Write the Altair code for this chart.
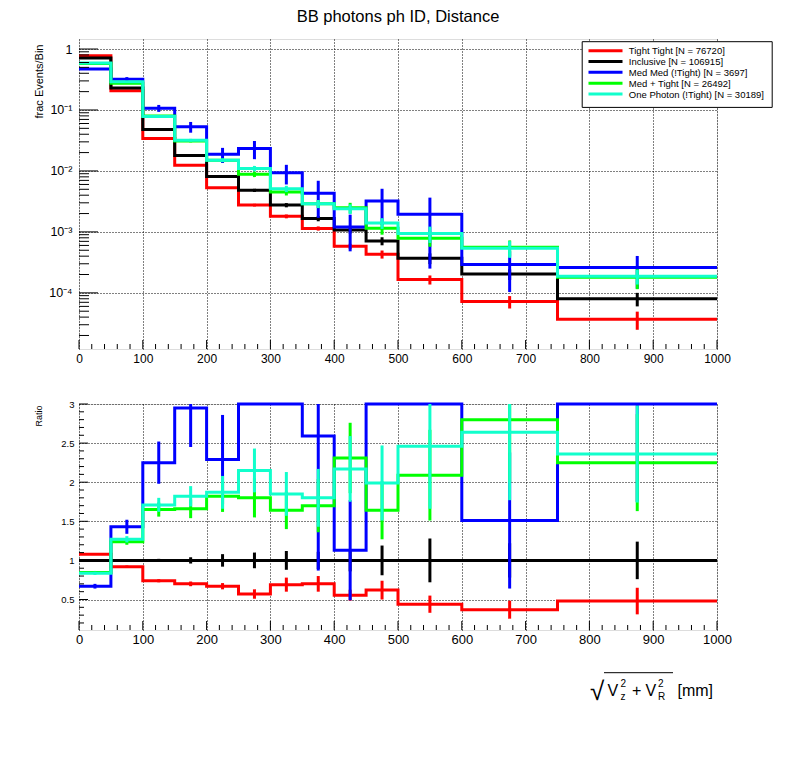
import altair as alt
import pandas as pd

FONT = "Liberation Sans"

# ---------------- data ----------------
edges = [0, 50, 100, 150, 200, 250, 300, 350, 400, 450, 500, 600, 750, 1000]
series = [
    "Tight Tight [N = 76720]",
    "Inclusive [N = 106915]",
    "Med Med (!Tight) [N = 3697]",
    "Med + Tight [N = 26492]",
    "One Photon (!Tight) [N = 30189]",
]
colors = ["#ff0000", "#000000", "#0000ff", "#00ff00", "#11ffcc"]

# top panel: fraction of events per bin
frac_tight = [0.776, 0.206, 0.034, 0.0124, 0.0053, 0.00275, 0.0018, 0.00114, 0.00058, 0.00043, 0.000165, 7.2e-5, 3.7e-5]
frac_incl = [0.71, 0.23, 0.048, 0.018, 0.0081, 0.0048, 0.00275, 0.00166, 0.00107, 0.00071, 0.00037, 0.000203, 8.0e-5]
frac_medmed = [0.47, 0.32, 0.107, 0.053, 0.0187, 0.0233, 0.0093, 0.0043, 0.0012, 0.0032, 0.00195, 0.000293, 0.00026]
frac_medtight = [0.58, 0.275, 0.08, 0.031, 0.015, 0.0088, 0.0045, 0.0029, 0.0025, 0.00115, 0.00079, 0.00056, 0.00018]
frac_one = [0.59, 0.29, 0.078, 0.032, 0.015, 0.011, 0.0051, 0.0029, 0.0024, 0.0014, 0.00094, 0.00054, 0.000188]

err_tight = [0.004, 0.002, 0.0005, 0.00025, 0.00016, 0.00014, 0.00013, 0.00009, 0.000058, 0.000065, 0.000028, 0.0000166, 0.0000122]
err_incl = [0.0036, 0.0023, 0.001, 0.00054, 0.0004, 0.00029, 0.00022, 0.000166, 0.00013, 0.000107, 0.000074, 0.00004, 0.00002]
err_medmed = [0.014, 0.026, 0.014, 0.0106, 0.0052, 0.0077, 0.0033, 0.0026, 0.00072, 0.0019, 0.0017, 0.00019, 0.000143]
err_medtight = [0.0058, 0.0055, 0.0024, 0.0016, 0.00105, 0.00088, 0.00054, 0.00044, 0.0005, 0.00025, 0.00022, 0.000165, 0.000065]
err_one = [0.0059, 0.0058, 0.0023, 0.0016, 0.00105, 0.0011, 0.0006, 0.00044, 0.00043, 0.00028, 0.00028, 0.000165, 0.000051]

# bottom panel: ratio to Inclusive
ratio_tight = [1.08, 0.92, 0.74, 0.70, 0.67, 0.57, 0.69, 0.70, 0.555, 0.62, 0.44, 0.37, 0.48]
ratio_incl = [1.0, 1.0, 1.0, 1.0, 1.0, 1.0, 1.0, 1.0, 1.0, 1.0, 1.0, 1.0, 1.0]
ratio_medmed = [0.67, 1.43, 2.25, 2.95, 2.29, 4.85, 3.6, 2.59, 1.13, 4.5, 5.3, 1.51, 3.25]
ratio_medtight = [0.845, 1.24, 1.65, 1.66, 1.82, 1.80, 1.64, 1.70, 2.31, 1.64, 2.09, 2.80, 2.25]
ratio_one = [0.835, 1.27, 1.71, 1.82, 1.87, 2.15, 1.85, 1.80, 2.17, 1.99, 2.46, 2.64, 2.36]

rerr_tight = [0.01, 0.015, 0.02, 0.03, 0.04, 0.06, 0.09, 0.1, 0.07, 0.12, 0.11, 0.115, 0.17]
rerr_incl = [0.005, 0.01, 0.02, 0.04, 0.08, 0.1, 0.12, 0.11, 0.14, 0.19, 0.28, 0.22, 0.24]
rerr_medmed = [0.03, 0.09, 0.27, 0.5, 0.57, 1.5, 0.5, 1.72, 0.64, 1.3, 1.6, 0.87, 1.5]
rerr_medtight = [0.02, 0.04, 0.09, 0.12, 0.2, 0.25, 0.24, 0.34, 0.45, 0.37, 0.58, 0.8, 0.62]
rerr_one = [0.02, 0.04, 0.09, 0.13, 0.21, 0.28, 0.28, 0.37, 0.42, 0.48, 0.8, 0.87, 0.62]

# axis ticks / labels
x_major = [0, 100, 200, 300, 400, 500, 600, 700, 800, 900, 1000]
x_minor = [v for v in range(20, 1000, 20) if v % 100 != 0]
top_y_major = [1, 0.1, 0.01, 0.001, 0.0001]
top_y_labels = ["1", "10⁻¹", "10⁻²", "10⁻³", "10⁻⁴"]
top_y_minor = [m * d for d in [1e-5, 1e-4, 1e-3, 1e-2, 1e-1] for m in range(2, 10)]
bot_y_major = [0.5, 1.0, 1.5, 2.0, 2.5, 3.0]
bot_y_minor = [round(v / 10, 1) for v in range(2, 30) if v % 5 != 0]

# ---------------- tables ----------------
fracs = [frac_tight, frac_incl, frac_medmed, frac_medtight, frac_one]
ferrs = [err_tight, err_incl, err_medmed, err_medtight, err_one]
ratios = [ratio_tight, ratio_incl, ratio_medmed, ratio_medtight, ratio_one]
rerrs = [rerr_tight, rerr_incl, rerr_medmed, rerr_medtight, rerr_one]

step_rows, err_rows = [], []
for s, f, fe, r, re_ in zip(series, fracs, ferrs, ratios, rerrs):
    n = len(f)
    for i, x in enumerate(edges):
        j = min(i, n - 1)
        step_rows.append({"series": s, "x": x, "frac": f[j], "ratio": r[j]})
    for i in range(n):
        err_rows.append({
            "series": s,
            "xc": (edges[i] + edges[i + 1]) / 2,
            "f_lo": f[i] - fe[i], "f_hi": f[i] + fe[i],
            "r_lo": r[i] - re_[i], "r_hi": r[i] + re_[i],
        })
step_df = pd.DataFrame(step_rows)
err_df = pd.DataFrame(err_rows)

# ---------------- scales / axes ----------------
W, HT, HB = 638, 310, 226
xscale = alt.Scale(domain=[0, 1000], nice=False, zero=False)
ytop = alt.Scale(type="log", domain=[1.2e-5, 1.46], nice=False, clamp=True)
ybot = alt.Scale(domain=[0.11, 3], nice=False, zero=False, clamp=True)

color = alt.Color("series:N", scale=alt.Scale(domain=series, range=colors), legend=None)

grid_kw = dict(grid=True, gridColor="black", gridDash=[1, 2], gridWidth=1, gridOpacity=1,
               ticks=False, domain=False, labelColor="black", labelFont=FONT, labelFlush=False)

x_axis_top = alt.Axis(values=x_major, format="d", labelFontSize=12, labelPadding=4, title=None, **grid_kw)
x_axis_bot = alt.Axis(values=x_major, format="d", labelFontSize=13, labelPadding=3, title=None, **grid_kw)

label_expr = ""
for v, lab in zip(top_y_major, top_y_labels):
    label_expr += f"datum.value > {v * 0.5} ? '{lab}' : "
label_expr += "''"
y_axis_top = alt.Axis(values=top_y_major, labelExpr=label_expr, labelFontSize=12.5, labelPadding=7,
                      title="frac Events/Bin", titleFontSize=11, titleFont=FONT, titleFontWeight="normal",
                      titleColor="black", titleAngle=-90, titleAlign="right", titleBaseline="middle",
                      titleX=-40, titleY=5, **grid_kw)
y_axis_bot = alt.Axis(values=bot_y_major, format="~g", labelFontSize=9.5, labelPadding=5,
                      title="Ratio", titleFontSize=9, titleFont=FONT, titleFontWeight="normal",
                      titleColor="black", titleAngle=-90, titleAlign="right", titleBaseline="middle",
                      titleX=-41, titleY=1, **grid_kw)

one = alt.Data(values=[{"k": 0}])


def series_layers(ycol, lo, hi, yscale, yaxis):
    layers = []
    for s in series:
        base_l = alt.Chart(step_df).transform_filter(alt.datum.series == s)
        layers.append(base_l.mark_line(interpolate="step-after", strokeWidth=3, strokeJoin="miter",
                                       strokeCap="butt").encode(
            x=alt.X("x:Q", scale=xscale),
            y=alt.Y(f"{ycol}:Q", scale=yscale, axis=yaxis),
            color=color,
        ))
        base_e = alt.Chart(err_df).transform_filter(alt.datum.series == s)
        layers.append(base_e.mark_rule(strokeWidth=3).encode(
            x=alt.X("xc:Q", scale=xscale),
            y=alt.Y(f"{lo}:Q", scale=yscale, axis=yaxis),
            y2=f"{hi}:Q",
            color=color,
        ))
    return layers


def x_tick_layers(h, xaxis):
    out = []
    for vals, ln in [(x_major, 9), (x_minor, 5)]:
        out.append(alt.Chart(pd.DataFrame({"t": vals})).mark_rule(color="black", strokeWidth=1).encode(
            x=alt.X("t:Q", scale=xscale, axis=xaxis), y=alt.value(h), y2=alt.value(h - ln)))
    return out


def y_tick_layers(major, minor, yscale, yaxis, lmaj, lmin):
    out = []
    for vals, ln in [(major, lmaj), (minor, lmin)]:
        out.append(alt.Chart(pd.DataFrame({"t": vals})).mark_rule(color="black", strokeWidth=1).encode(
            y=alt.Y("t:Q", scale=yscale, axis=yaxis), x=alt.value(0), x2=alt.value(ln)))
    return out


def txt(s, x, y, size, align="left", baseline="alphabetic"):
    return alt.Chart(one).mark_text(font=FONT, fontSize=size, align=align, baseline=baseline,
                                    color="black").encode(x=alt.value(x), y=alt.value(y), text=alt.value(s))


# legend box (drawn by hand, ROOT style)
leg = [alt.Chart(one).mark_rect(fill="white", stroke="black", strokeWidth=1).encode(
    x=alt.value(503.2), x2=alt.value(693.2), y=alt.value(2.7), y2=alt.value(68.4))]
for i, (s, c) in enumerate(zip(series, colors)):
    yy = 11.7 + 10.83 * i
    leg.append(alt.Chart(one).mark_rule(color=c, strokeWidth=3).encode(
        x=alt.value(509.5), x2=alt.value(543.5), y=alt.value(yy)))
    leg.append(txt(s, 549.8, yy + 0.5, 9.5, "left", "middle"))

# invisible rule fixing the outer bounds of the drawing
spacer = alt.Chart(one).mark_rule(strokeOpacity=0).encode(
    x=alt.value(-70.5), x2=alt.value(700), y=alt.value(-30.3), y2=alt.value(330))

top_layers = (series_layers("frac", "f_lo", "f_hi", ytop, y_axis_top)
              + x_tick_layers(HT, x_axis_top)
              + y_tick_layers(top_y_major, top_y_minor, ytop, y_axis_top, 19, 10)
              + leg
              + [spacer, txt("BB photons ph ID, Distance", W / 2, -16.7, 16.5, "center")])
top = alt.layer(*top_layers).properties(width=W, height=HT)

# composed x-axis title: sqrt(V_z^2 + V_R^2) [mm]
xt = [
    txt("√", 511, 296, 26),
    alt.Chart(one).mark_rule(color="black", strokeWidth=1).encode(
        x=alt.value(525), x2=alt.value(594), y=alt.value(268.7)),
    txt("V", 528.5, 291.7, 16),
    txt("2", 541.5, 282.7, 10),
    txt("z", 541.5, 296, 10),
    txt("+", 553, 291.7, 16),
    txt("V", 566.5, 291.7, 16),
    txt("2", 579, 282.7, 10),
    txt("R", 579, 296, 10),
    txt("[mm]", 598.5, 291.7, 16),
]

bot_layers = (series_layers("ratio", "r_lo", "r_hi", ybot, y_axis_bot)
              + x_tick_layers(HB, x_axis_bot)
              + y_tick_layers(bot_y_major, bot_y_minor, ybot, y_axis_bot, 9, 5)
              + xt)
bottom = alt.layer(*bot_layers).properties(width=W, height=HB)

chart = alt.vconcat(top, bottom, spacing=55, bounds="flush").properties(
    padding=0, background="white"
).configure_view(stroke="black", strokeWidth=1).configure(font=FONT)

chart.save("out.html", embed_options={"renderer": "svg", "actions": False})
